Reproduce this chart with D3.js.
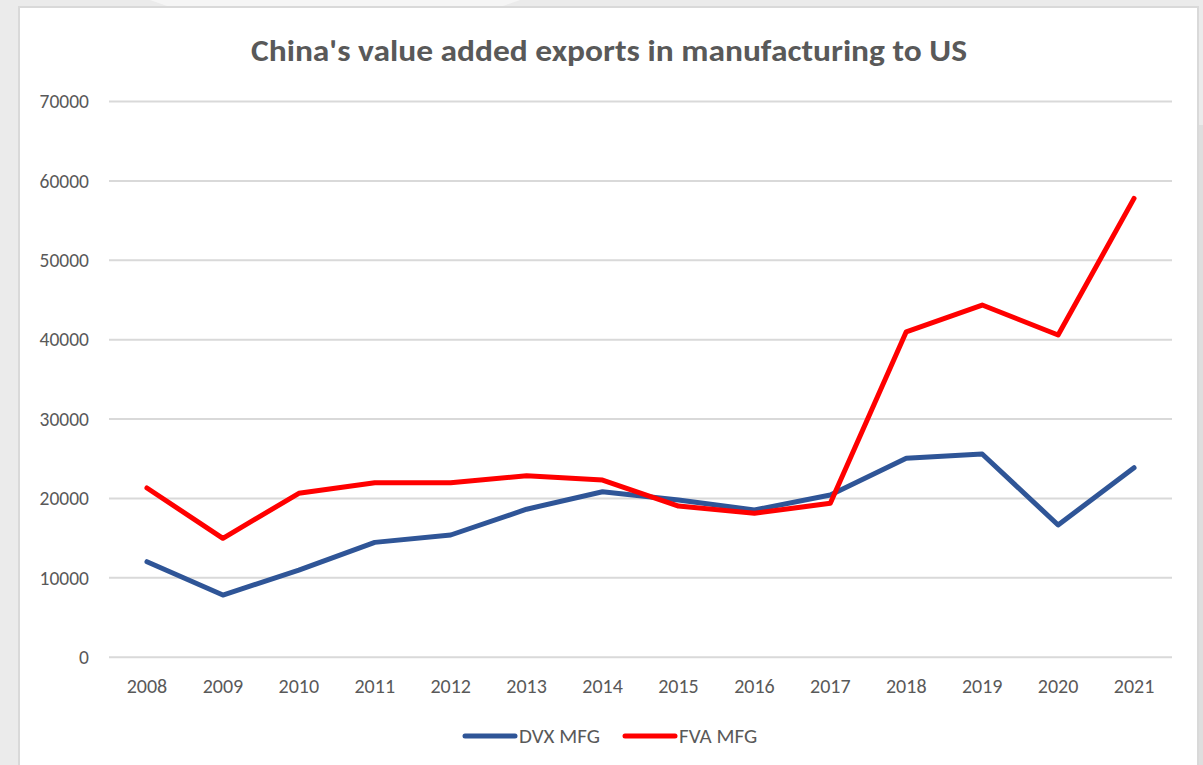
<!DOCTYPE html>
<html>
<head>
<meta charset="utf-8">
<script src="https://cdn.jsdelivr.net/npm/d3@7"></script>
<style>
  html, body { margin: 0; padding: 0; background: #ececec; }
  svg { display: block; }
</style>
</head>
<body>
<svg id="chart" width="1203" height="765"></svg>
<script>
// Value added exports in manufacturing, China to US
const years = ["2008","2009","2010","2011","2012","2013","2014","2015","2016","2017","2018","2019","2020","2021"];
const dvxMfg = [11970, 7770, 10900, 14400, 15330, 18580, 20780, 19740, 18480, 20370, 24990, 25530, 16590, 23800];
const fvaMfg = [21250, 14910, 20580, 21910, 21910, 22800, 22250, 18980, 18060, 19320, 40930, 44300, 40520, 57730];
const yTicks = [0, 10000, 20000, 30000, 40000, 50000, 60000, 70000];
const seriesNames = ["DVX MFG", "FVA MFG"];
const seriesColors = ["#2f5597", "#ff0000"];

const svg = d3.select("#chart");
const font = "Calibri, Carlito, 'Open Sans', 'Noto Sans', sans-serif";

// backdrop and card
svg.append("rect").attr("x", 0).attr("y", 0).attr("width", 1203).attr("height", 765).attr("fill", "#ebebeb");
svg.append("path").attr("d", "M150,0 L520,0 L500,7 L170,7 Z").attr("fill", "#f5f5f5");
svg.append("rect").attr("x", 1199).attr("y", 125).attr("width", 4).attr("height", 640).attr("fill", "#dedede");
svg.append("rect")
  .attr("x", 19).attr("y", 7).attr("width", 1179).attr("height", 770)
  .attr("fill", "#ffffff").attr("stroke", "#d9d9d9").attr("stroke-width", 2);

const plotLeft = 109, plotRight = 1172, plotTop = 101, plotBottom = 656.7;

const x = d3.scaleBand().domain(years).range([plotLeft, plotRight]).paddingInner(0).paddingOuter(0);
const y = d3.scaleLinear().domain([0, 70000]).range([plotBottom, plotTop]);

// gridlines
const yAxis = d3.axisLeft(y).tickValues(yTicks).tickSize(-(plotRight - plotLeft)).tickFormat(d3.format("d"));
const gy = svg.append("g").attr("transform", `translate(${plotLeft},0)`).call(yAxis);
gy.select(".domain").remove();
gy.selectAll(".tick line").attr("stroke", "#d9d9d9").attr("stroke-width", 2);
gy.selectAll(".tick text")
  .attr("x", -20).attr("dy", "0.35em")
  .attr("fill", "#595959").style("font-family", font).style("font-size", "19.5px");

// category axis labels
const xAxis = d3.axisBottom(x).tickSize(0).tickPadding(0);
const gx = svg.append("g").attr("transform", `translate(0,${plotBottom})`).call(xAxis);
gx.select(".domain").remove();
gx.selectAll(".tick text")
  .attr("y", 29).attr("dy", "0.35em")
  .attr("fill", "#595959").style("font-family", font).style("font-size", "20px");

// series lines
const cx = d => x(d) + x.bandwidth() / 2;
const line = d3.line().x((d, i) => cx(years[i])).y(d => y(d));
[dvxMfg, fvaMfg].forEach((vals, k) => {
  svg.append("path")
    .datum(vals)
    .attr("d", line)
    .attr("fill", "none")
    .attr("stroke", seriesColors[k])
    .attr("stroke-width", 5)
    .attr("stroke-linejoin", "round")
    .attr("stroke-linecap", "round");
});

// title
svg.append("text")
  .attr("x", 609).attr("y", 61)
  .attr("text-anchor", "middle")
  .attr("fill", "#595959")
  .attr("textLength", 716).attr("lengthAdjust", "spacingAndGlyphs")
  .style("font-family", font).style("font-weight", "bold").style("font-size", "31px")
  .text("China's value added exports in manufacturing to US");

// legend
const legendX = [465, 625];
seriesNames.forEach((name, k) => {
  const g = svg.append("g").attr("transform", `translate(${legendX[k]},736)`);
  g.append("line").attr("x1", 0).attr("x2", 50).attr("y1", 0).attr("y2", 0)
    .attr("stroke", seriesColors[k]).attr("stroke-width", 5).attr("stroke-linecap", "round");
  g.append("text").attr("x", 54).attr("y", 0).attr("dy", "0.35em")
    .attr("fill", "#595959").style("font-family", font).style("font-size", "21px")
    .text(name);
});
</script>
</body>
</html>
